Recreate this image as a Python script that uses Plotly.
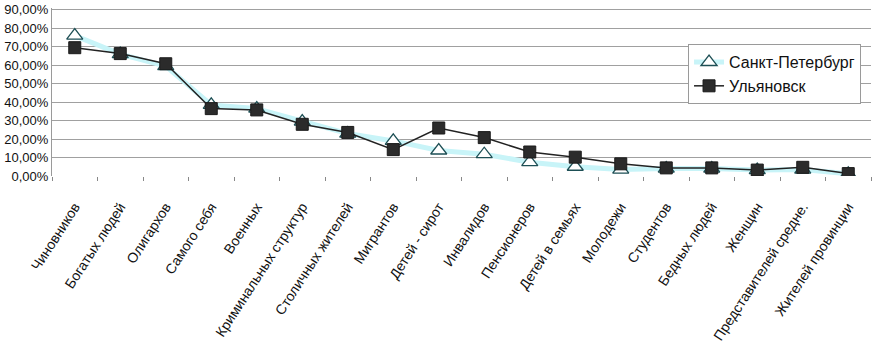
import plotly.graph_objects as go

categories = ["Чиновников", "Богатых людей", "Олигархов", "Самого себя", "Военных",
              "Криминальных структур", "Столичных жителей", "Мигрантов", "Детей - сирот",
              "Инвалидов", "Пенсионеров", "Детей в семьях", "Молодежи", "Студентов",
              "Бедных людей", "Женщин", "Представителей средне.", "Жителей провинции"]
spb = [0.76, 0.66, 0.595, 0.385, 0.365, 0.295, 0.23, 0.19, 0.138, 0.118, 0.075, 0.05,
       0.035, 0.04, 0.04, 0.032, 0.035, 0.012]
uly = [0.695, 0.663, 0.608, 0.365, 0.358, 0.28, 0.236, 0.143, 0.26, 0.208, 0.13, 0.102,
       0.066, 0.044, 0.044, 0.032, 0.047, 0.013]
y_ticks = [0.0, 0.1, 0.2, 0.3, 0.4, 0.5, 0.6, 0.7, 0.8, 0.9]

font = "Liberation Sans, Arial, sans-serif"

fig = go.Figure()
fig.add_trace(go.Scatter(
    x=categories, y=spb, name="Санкт-Петербург", mode="lines+markers",
    line=dict(color="#c8f4f8", width=5),
    marker=dict(symbol="triangle-up", size=14, color="white",
                line=dict(color="#1d4f55", width=1.3)),
))
fig.add_trace(go.Scatter(
    x=categories, y=uly, name="Ульяновск", mode="lines+markers",
    line=dict(color="#222222", width=1.5),
    marker=dict(symbol="square", size=12, color="#2b2b2b",
                line=dict(color="#1a1a1a", width=1)),
))

fig.update_layout(
    width=873, height=351,
    margin=dict(l=52, r=2, t=4, b=175),
    paper_bgcolor="white", plot_bgcolor="white",
    separators=", ",
    font=dict(family=font, size=13, color="#111111"),
    showlegend=True,
    legend=dict(x=0.7766, y=0.785, xanchor="left", yanchor="top",
                bordercolor="#9a9a9a", borderwidth=1, bgcolor="white",
                font=dict(size=16, family=font, color="#111111"),
                itemwidth=30),
    xaxis=dict(type="category", range=[-0.5, 17.5], tickangle=-57, ticks="outside",
               ticklen=4, tickcolor="#888888", tickson="boundaries", showgrid=False,
               showline=False, zeroline=False, ticklabelstandoff=19,
               tickfont=dict(size=14, family=font, color="#111111")),
    yaxis=dict(range=[0, 0.91], tickvals=y_ticks, tickformat=".2%",
               ticklabeloverflow="allow",
               showgrid=True, gridcolor="#a0a0a0", gridwidth=1,
               showline=True, linecolor="#9a9a9a", linewidth=1,
               zeroline=False, ticks="", tickfont=dict(size=13, family=font, color="#111111")),
)

fig.write_html("out.html", config={"displayModeBar": False},
               post_script="document.body.style.margin='0';")
